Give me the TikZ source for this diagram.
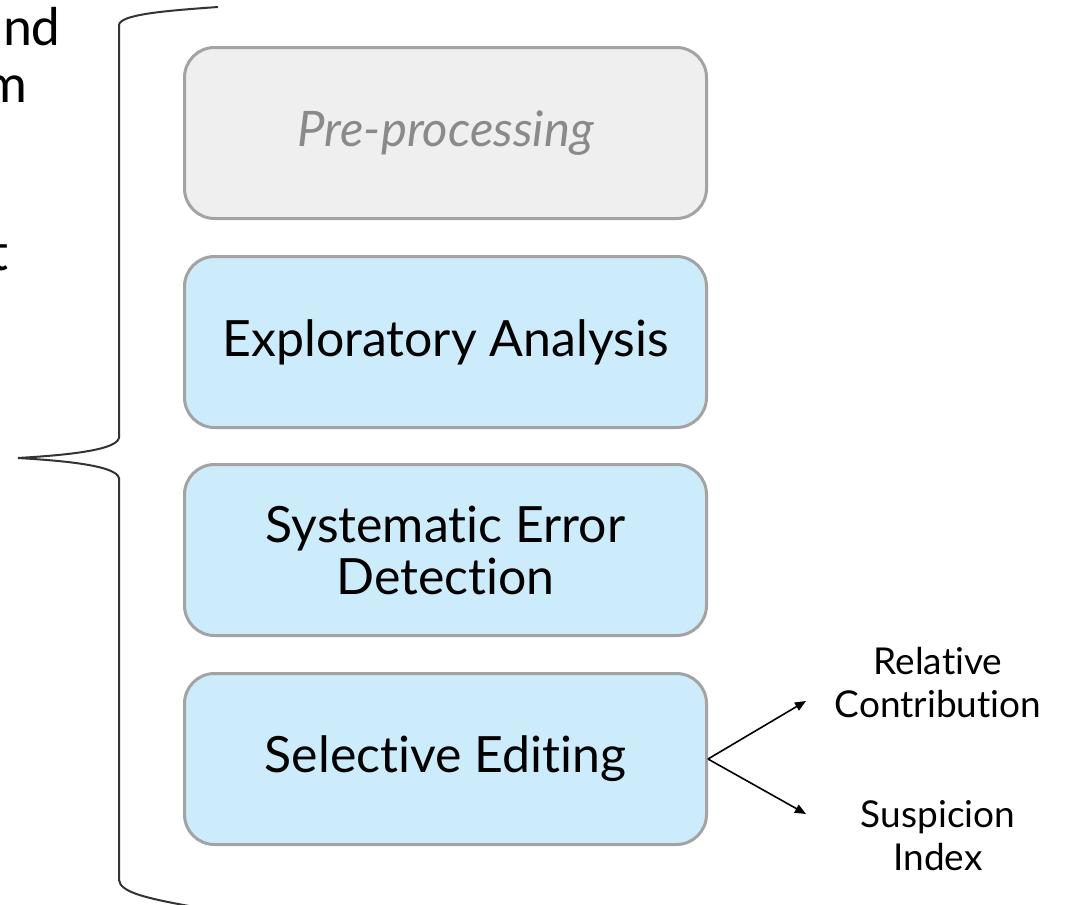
\documentclass[tikz,border=0pt]{standalone}
\usepackage{fontspec}
\setmainfont{Lato}[Ligatures=NoCommon]
\newfontfamily\calib{Carlito}
\usetikzlibrary{arrows.meta}
\definecolor{boxblue}{HTML}{CCEBFB}
\definecolor{boxgray}{HTML}{EFEFEF}
\definecolor{edgegray}{HTML}{A3A3A3}
\definecolor{pretext}{HTML}{8A8A8A}
\definecolor{bracecol}{HTML}{333333}
\tikzset{
  stagebox/.style={draw=edgegray, line width=3pt, fill=boxblue, rounded corners=30pt,
    minimum width=522pt, minimum height=171pt, align=center, font=\fontsize{50}{52}\selectfont, text=black},
  prebox/.style={stagebox, fill=boxgray, text=pretext, font=\fontsize{49}{52}\selectfont\itshape},
  sidelabel/.style={align=center, font=\fontsize{37}{43}\selectfont},
  leftfrag/.style={anchor=base east, font=\calib\fontsize{55}{57}\selectfont, inner sep=0pt},
  conn/.style={line width=1.6pt, -{Triangle[length=11pt,width=9pt]}},
  bracestyle/.style={draw=bracecol, line width=2pt}
}
\begin{document}
\begin{tikzpicture}[x=1pt,y=-1pt]
\useasboundingbox (0,0) rectangle (1074,905);
\begin{scope}
\clip (0,0) rectangle (1074,905);
\node[leftfrag] (fa) at (61,45) {and};
\node[leftfrag] (fb) at (28,102) {m};
\node[leftfrag] (fc) at (9,270) {t};
% brace
\draw[bracestyle] (218,7) .. controls (160,11) and (120,15) .. (119,25)
  -- (119,438) .. controls (116,452) and (50,456) .. (18,458)
  .. controls (50,460) and (116,464) .. (119,478)
  -- (119,880) .. controls (120,893) and (150,899) .. (200,908);
\end{scope}
\node[prebox] (pre) at (445.5,133) {Pre-processing};
\node[stagebox] (expl) at (445.5,342) {Exploratory Analysis};
\node[stagebox] (sys) at (445.5,550) {Systematic Error\\Detection};
\node[stagebox] (sel) at (445.5,759) {Selective Editing};
\coordinate (fork) at (sel.east);
\node[sidelabel] (rel) at (938,683) {Relative\\Contribution};
\node[sidelabel] (sus) at (938,836) {Suspicion\\Index};
\coordinate (t1) at (806,701);
\coordinate (t2) at (806,814);
\draw[conn] (fork) -- (t1);
\draw[conn] (fork) -- (t2);
\end{tikzpicture}
\end{document}
